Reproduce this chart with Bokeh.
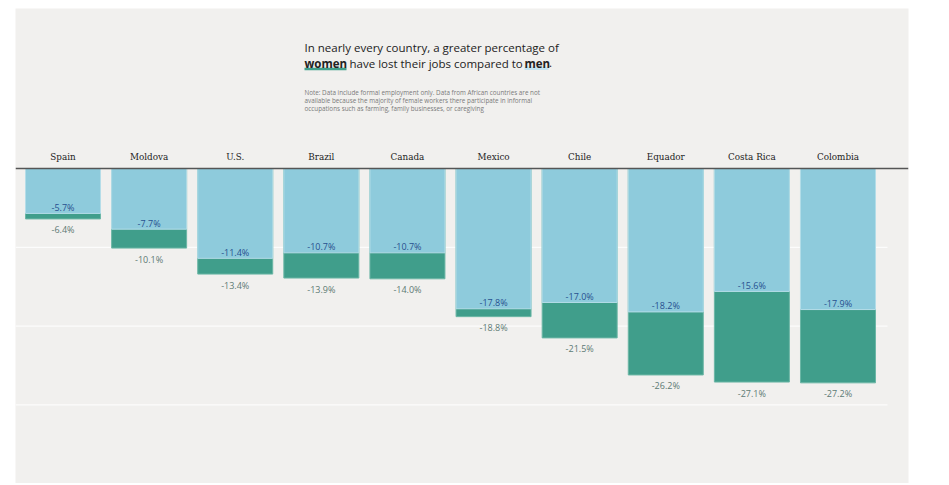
from bokeh.plotting import figure
from bokeh.models import ColumnDataSource, Label, Span, Range1d
from bokeh.core.properties import value
from bokeh.embed import file_html
from bokeh.resources import INLINE

# ---- data ----
countries = ["Spain", "Moldova", "U.S.", "Brazil", "Canada", "Mexico",
             "Chile", "Equador", "Costa Rica", "Colombia"]
men = [-5.7, -7.7, -11.4, -10.7, -10.7, -17.8, -17.0, -18.2, -15.6, -17.9]
women = [-6.4, -10.1, -13.4, -13.9, -14.0, -18.8, -21.5, -26.2, -27.1, -27.2]
grid_values = [-10, -20, -30]

# ---- layout helpers (page pixels -> data) ----
PX_PER_X = 86.11
PX_PER_Y = 7.88
X_START = -0.5517
FRAME_LEFT = 15
ZERO_Y = 168


def dx(px):
    return X_START + (px - FRAME_LEFT) / PX_PER_X


def dy(py):
    return (ZERO_Y - py) / PX_PER_Y


W, H = 941, 483
p = figure(width=W, height=H, output_backend="svg", toolbar_location=None,
           x_axis_type=None, y_axis_type=None,
           x_range=Range1d(dx(15), dx(908)), y_range=Range1d(dy(483), dy(8)),
           min_border_left=15, min_border_right=33, min_border_top=8,
           min_border_bottom=0)
p.background_fill_color = "#f1f0ee"
p.border_fill_color = "white"
p.outline_line_color = None
p.xgrid.visible = False
p.ygrid.visible = False

idx = list(range(len(countries)))
src = ColumnDataSource(dict(
    x=idx, country=countries, men=men, women=women,
    men_lbl=[f"{v:.1f}%" for v in men],
    women_lbl=[f"{v:.1f}%" for v in women],
))

# gridlines
p.segment(x0=[dx(15)] * len(grid_values), x1=[dx(887)] * len(grid_values),
          y0=grid_values, y1=grid_values, line_color="white", line_width=1)

BW = 75 / PX_PER_X
p.vbar(x="x", top=0, bottom="women", width=BW, source=src,
       fill_color="#409e8b", line_color="#6cb7a6", line_width=1)
p.vbar(x="x", top=0, bottom="men", width=BW, source=src,
       fill_color="#8ecbdc", line_color="#b5dde8", line_width=1)

# zero line
p.add_layout(Span(location=0, dimension="width", line_color="#555555",
                  line_width=1.5))

# value labels
p.text(x="x", y="men", text="men_lbl", source=src, text_align="center",
       text_baseline="middle", y_offset=-6, text_font=value("Open Sans"),
       text_font_size="9px", text_color="#27508f")
p.text(x="x", y="women", text="women_lbl", source=src, text_align="center",
       text_baseline="middle", y_offset=11, text_font=value("Open Sans"),
       text_font_size="9px", text_color="#5d7a74")

# country labels
p.text(x="x", y=dy(156.5), text="country", source=src, text_align="center",
       text_baseline="middle", text_font=value("DejaVu Serif"),
       text_font_size="8.8px", text_color="#222222")

# title
TF = "Open Sans"
TS = "11.5px"
L1 = 46.5
L2 = 62.5
p.add_layout(Label(x=dx(304), y=dy(L1),
                   text="In nearly every country, a greater percentage of",
                   text_font=TF, text_font_size=TS, text_color="#222222",
                   text_baseline="alphabetic"))
# underline highlights
p.quad(left=[dx(304)], right=[dx(346)], top=[dy(67.3)], bottom=[dy(69.8)],
       fill_color="#41a08b", line_color=None)
p.quad(left=[dx(524)], right=[dx(548)], top=[dy(66.3)], bottom=[dy(69.5)],
       fill_color="#c4e4f1", line_color=None)
p.add_layout(Label(x=dx(304), y=dy(L2), text="women", text_font=TF,
                   text_font_size=TS, text_font_style="bold",
                   text_color="#222222", text_baseline="alphabetic"))
p.add_layout(Label(x=dx(349), y=dy(L2),
                   text="have lost their jobs compared to", text_font=TF,
                   text_font_size=TS, text_color="#222222",
                   text_baseline="alphabetic"))
p.add_layout(Label(x=dx(524), y=dy(L2), text="men", text_font=TF,
                   text_font_size=TS, text_font_style="bold",
                   text_color="#222222", text_baseline="alphabetic"))
p.add_layout(Label(x=dx(548.5), y=dy(L2), text=".", text_font=TF,
                   text_font_size=TS, text_color="#222222",
                   text_baseline="alphabetic"))

notes = ["Note: Data include formal employment only. Data from African countries are not",
         "available because the majority of female workers there participate in informal",
         "occupations such as farming, family businesses, or caregiving"]
for i, line in enumerate(notes):
    p.add_layout(Label(x=dx(304), y=dy(91.5 + 8 * i), text=line, text_font=TF,
                       text_font_size="6.3px", text_color="#7a7a7a",
                       text_baseline="alphabetic"))

open("out.html", "w").write(file_html(p, INLINE))
